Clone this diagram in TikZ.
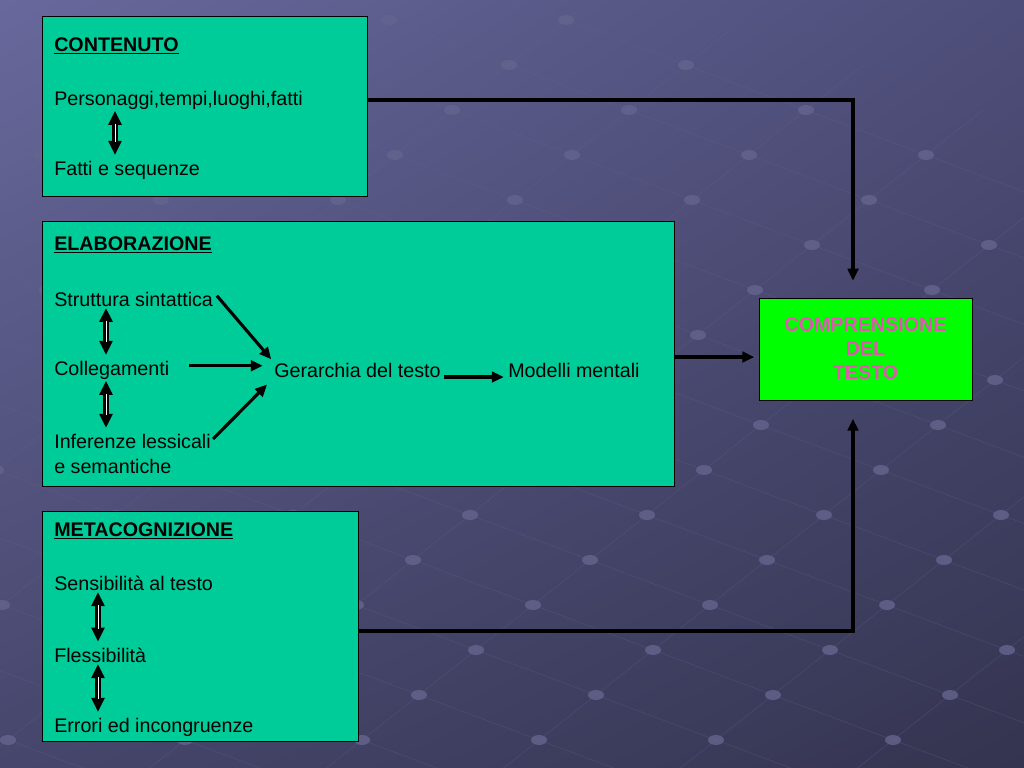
\documentclass[tikz,border=0pt]{standalone}
\usepackage{fontspec}
\setmainfont{Liberation Sans}
\usetikzlibrary{arrows.meta,shadings}
\definecolor{panelgreen}{RGB}{0,204,153}
\definecolor{goalgreen}{RGB}{0,255,0}
\definecolor{goalpink}{RGB}{228,84,178}
\definecolor{bgA}{RGB}{104,104,156}
\definecolor{bgB}{RGB}{78,78,122}
\definecolor{bgC}{RGB}{70,70,108}
\definecolor{bgD}{RGB}{52,52,80}
\definecolor{dotcol}{RGB}{100,100,142}
\begin{document}
\begin{tikzpicture}[x=0.025cm,y=-0.025cm,
  panel/.style={draw=black,fill=panelgreen,line width=0.6pt,anchor=north west,inner sep=0pt},
  txt/.style={anchor=west,inner sep=0pt,font=\fontsize{14}{17}\selectfont},
  head/.style={txt,font=\fontsize{14}{17}\selectfont\bfseries},
  link/.style={line width=2.2pt,-{Triangle[length=8.5pt,width=7.5pt]}},
  twoway/.style={line width=4.4pt,{Triangle[length=10pt,width=9pt]}-{Triangle[length=10pt,width=9pt]},shorten <=1pt,shorten >=4pt},
  twowaycore/.style={white,line width=0.7pt,shorten <=10pt,shorten >=13pt}]
  % background
  \useasboundingbox (0,0) rectangle (1024,768);
  \shade[upper left=bgA,upper right=bgB,lower left=bgC,lower right=bgD] (0,0) rectangle (1024,768);
  \begin{scope}
    \clip (0,0) rectangle (1024,768);
    \foreach \i in {-6,...,6}
      \draw[dotcol,opacity=0.35,line width=0.4pt] ({590+120*\i-57*9},{560+45*\i+45*9}) -- ({590+120*\i+57*9},{560+45*\i-45*9});
    \foreach \j in {-8,...,8}
      \draw[dotcol,opacity=0.35,line width=0.4pt] ({590-120*7+57*\j},{560-45*7-45*\j}) -- ({590+120*7+57*\j},{560+45*7-45*\j});
    \foreach \i in {-6,...,6}
      \foreach \j in {-8,...,8}
        \fill[dotcol,opacity=0.8] ({590+120*\i+57*\j},{560+45*\i-45*\j}) ellipse (8 and 5);
  \end{scope}

  % CONTENUTO
  \node[panel,minimum width=8.125cm,minimum height=4.5cm] (contbox) at (42,16) {};
  \node[head] (cont) at (54,46) {\underline{CONTENUTO}};
  \node[txt] (pers) at (54,100) {Personaggi,tempi,luoghi,fatti};
  \node[txt] (fatti) at (54,170) {Fatti e sequenze};
  \draw[twoway] (115,0 |- pers.south) -- (115,0 |- fatti.north);
  \draw[twowaycore] (115,0 |- pers.south) -- (115,0 |- fatti.north);

  % ELABORAZIONE
  \node[panel,minimum width=15.8cm,minimum height=6.625cm] (elabbox) at (42,221) {};
  \node[head] (elab) at (54,245) {\underline{ELABORAZIONE}};
  \node[txt] (strutt) at (54,299) {Struttura sintattica};
  \node[txt] (coll) at (54,370) {Collegamenti};
  \node[txt] (inf) at (54,441) {Inferenze lessicali};
  \node[txt] (sem) at (54,466) {e semantiche};
  \node[txt] (ger) at (274,370) {Gerarchia del testo};
  \node[txt] (mod) at (508,370) {Modelli mentali};
  \draw[twoway] (106,0 |- strutt.south) -- (106,0 |- coll.north);
  \draw[twowaycore] (106,0 |- strutt.south) -- (106,0 |- coll.north);
  \draw[twoway] (106,0 |- coll.south) -- (106,0 |- inf.north);
  \draw[twowaycore] (106,0 |- coll.south) -- (106,0 |- inf.north);
  \draw[link,shorten <=4pt,shorten >=3pt] (strutt.north east) -- (ger.north west);
  \draw[link,shorten <=14pt,shorten >=8pt] ([yshift=3pt]coll.east) -- ([yshift=3pt]ger.west);
  \draw[link,shorten <=2pt,shorten >=7pt] (inf.east) -- (ger.south west);
  \draw[link,shorten <=2pt,shorten >=3pt] (ger.base east) -- (mod.base west);

  % METACOGNIZIONE
  \node[panel,minimum width=7.9cm,minimum height=5.75cm] (metabox) at (42,511) {};
  \node[head] (meta) at (54,531) {\underline{METACOGNIZIONE}};
  \node[txt] (sens) at (54,583) {Sensibilità al testo};
  \node[txt] (fless) at (54,655) {Flessibilità};
  \node[txt] (err) at (54,727) {Errori ed incongruenze};
  \draw[twoway] (98,0 |- sens.south) -- (98,0 |- fless.north);
  \draw[twowaycore] (98,0 |- sens.south) -- (98,0 |- fless.north);
  \draw[twoway] (98,0 |- fless.south) -- (98,0 |- err.north);
  \draw[twowaycore] (98,0 |- fless.south) -- (98,0 |- err.north);

  % COMPRENSIONE DEL TESTO
  \node[draw=black,fill=goalgreen,line width=0.6pt,minimum width=5.325cm,minimum height=2.55cm,
    align=center,text=goalpink,font=\fontsize{14}{17}\selectfont\bfseries] (compr) at (865.5,349)
    {COMPRENSIONE\\DEL\\TESTO};

  \coordinate (elabrow) at (700,357);
  \coordinate (metarow) at (700,631);
  \coordinate (drop) at (853,0);
  \draw[link,shorten >=12pt] (contbox.east |- pers.east) -| (drop |- compr.north);
  \draw[link,shorten >=3pt] (elabbox.east |- elabrow) -- (compr.west |- elabrow);
  \draw[link,shorten >=13pt] (metabox.east |- metarow) -| (drop |- compr.south);
\end{tikzpicture}
\end{document}
